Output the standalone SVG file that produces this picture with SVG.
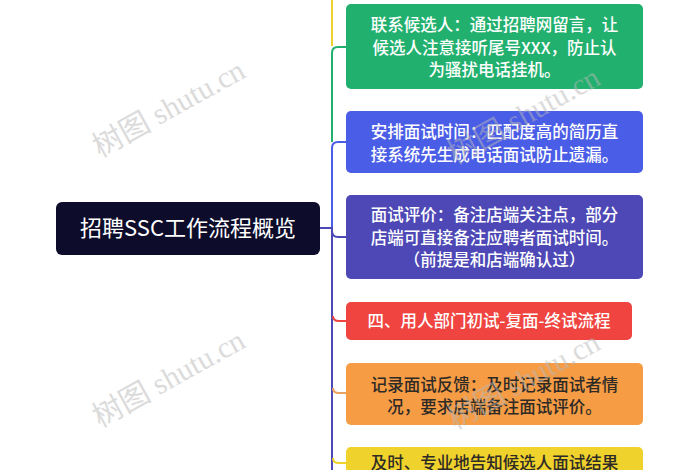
<svg xmlns="http://www.w3.org/2000/svg" width="700" height="470" viewBox="0 0 700 470">
<style>
.t{font-family:"Noto Sans CJK SC","Noto Sans",sans-serif;font-size:16.5px;font-weight:500;text-anchor:middle;fill:#fff}
.d{fill:#2e2a26}
.root{font-family:"Noto Sans CJK SC","Noto Sans",sans-serif;font-size:22px;text-anchor:middle;fill:#fff}
.c{fill:none;stroke-width:2}
.wm{font-family:"Liberation Serif","Noto Sans CJK SC",serif;font-size:30px;fill:#b8b8b8;opacity:0.5}
</style>
<rect width="700" height="470" fill="#fff"/>
<g id="connectors">
<path class="c" stroke="#f0d22c" d="M332,0 V46"/>
<path class="c" stroke="#22b06e" d="M332,142 V53 Q332,47 338,47 H346"/>
<path class="c" stroke="#4a5de6" d="M332,228 V148 Q332,142 338,142 H346"/>
<path class="c" stroke="#4d48b6" d="M320,228 H332 V470 M332,231 Q332,237 338,237 H346"/>
<path class="c" stroke="#ef4440" d="M333,316 Q333,321 339,321 H346"/>
<path class="c" stroke="#e8a160" d="M333,388 Q333,393 339,393 H346"/>
<path class="c" stroke="#f0d22c" d="M333,458 Q333,463 339,463 H346"/>
</g>
<g id="root">
<rect x="56" y="202" width="264" height="53" rx="6" fill="#0d0c2b"/>
<text class="root" x="188" y="236">招聘SSC工作流程概览</text>
</g>
<g id="n1">
<rect x="346" y="4" width="297" height="85" rx="5" fill="#22b06e"/>
<text class="t" x="494.5" y="31">联系候选人：通过招聘网留言，让</text>
<text class="t" x="494.5" y="54">候选人注意接听尾号XXX，防止认</text>
<text class="t" x="494.5" y="76">为骚扰电话挂机。</text>
</g>
<g id="n2">
<rect x="346" y="111" width="297" height="62" rx="5" fill="#4a5de6"/>
<text class="t" x="494.5" y="138">安排面试时间：匹配度高的简历直</text>
<text class="t" x="494.5" y="161">接系统先生成电话面试防止遗漏。</text>
</g>
<g id="n3">
<rect x="346" y="195" width="297" height="84" rx="5" fill="#4d48b6"/>
<text class="t" x="494.5" y="221">面试评价：备注店端关注点，部分</text>
<text class="t" x="494.5" y="243.5">店端可直接备注应聘者面试时间。</text>
<text class="t" x="494.5" y="266">（前提是和店端确认过）</text>
</g>
<g id="n4">
<rect x="346" y="302" width="286" height="38" rx="5" fill="#ef4440"/>
<text class="t" x="489" y="327">四、用人部门初试-复面-终试流程</text>
</g>
<g id="n5">
<rect x="346" y="363" width="297" height="62" rx="5" fill="#f59c45"/>
<text class="t d" x="494.5" y="391">记录面试反馈：及时记录面试者情</text>
<text class="t d" x="494.5" y="413">况，要求店端备注面试评价。</text>
</g>
<g id="n6">
<rect x="346" y="447" width="297" height="40" rx="5" fill="#f0d22c"/>
<text class="t d" x="494.5" y="469">及时、专业地告知候选人面试结果</text>
</g>
<g id="watermarks">
<text class="wm" transform="translate(100,158) rotate(-29)">树图 shutu.cn</text>
<text class="wm" transform="translate(100,428) rotate(-29)">树图 shutu.cn</text>
<text class="wm" transform="translate(455,165) rotate(-29)">树图 shutu.cn</text>
<text class="wm" transform="translate(455,430) rotate(-29)">树图 shutu.cn</text>
</g>
</svg>
